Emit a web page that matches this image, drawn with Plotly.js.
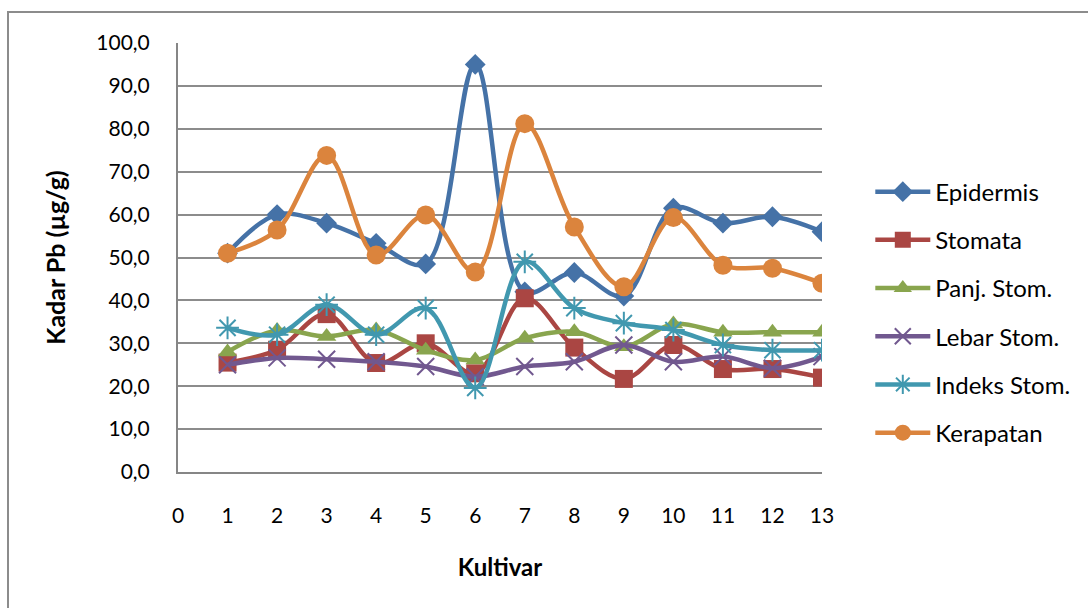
<!DOCTYPE html>
<html>
<head>
<meta charset="utf-8">
<script src="https://cdn.plot.ly/plotly-3.0.1.min.js"></script>
<style>
  html, body { margin: 0; padding: 0; background: #fff; overflow: hidden; width: 1088px; height: 608px; }
  #frame { position: absolute; left: 7px; top: 11px; width: 1200px; height: 700px; border: 2px solid #8c8c8c; box-sizing: border-box; }
  #chart { position: absolute; left: 0; top: 0; width: 1088px; height: 608px; }
</style>
</head>
<body>
<div id="frame"></div>
<div id="chart"></div>
<script>
const kultivar = [1,2,3,4,5,6,7,8,9,10,11,12,13];
const epidermis = [51.0, 60.0, 58.0, 53.3, 48.5, 95.0, 42.0, 46.5, 41.0, 61.5, 58.0, 59.5, 56.0];
const stomata   = [25.5, 28.5, 36.8, 25.4, 30.0, 23.0, 40.5, 29.0, 21.7, 29.6, 24.0, 24.0, 22.0];
const panjStom  = [28.0, 33.0, 31.6, 33.1, 28.4, 26.1, 31.2, 32.7, 29.2, 34.5, 32.6, 32.6, 32.6];
const lebarStom = [25.0, 26.6, 26.3, 25.7, 24.6, 22.2, 24.6, 25.7, 29.6, 25.7, 26.9, 24.2, 26.9];
const indeksStom= [33.6, 32.0, 39.0, 32.0, 38.2, 19.6, 49.0, 38.2, 34.7, 33.1, 29.6, 28.4, 28.4];
const kerapatan = [51.0, 56.4, 73.8, 50.6, 59.9, 46.6, 81.2, 57.1, 43.2, 59.3, 48.2, 47.5, 44.0];

const seriesNames = ['Epidermis','Stomata','Panj. Stom.','Lebar Stom.','Indeks Stom.','Kerapatan'];
const seriesData = [epidermis, stomata, panjStom, lebarStom, indeksStom, kerapatan];
const colors = ['#4572A7','#AA4643','#89A54E','#71588F','#4198AF','#DB843D'];
const symbols = ['diamond','square','triangle-up','x-thin-open','asterisk-open','circle'];
const sizes = [16, 18, 17, 17, 19, 19];

const traces = seriesNames.map((n, i) => ({
  x: kultivar, y: seriesData[i], name: n, type: 'scatter', mode: 'lines+markers',
  legendgroup: 'g' + i,
  line: { color: colors[i], width: 4.5, shape: 'spline', smoothing: 1 },
  marker: { symbol: symbols[i], size: sizes[i], color: colors[i],
            line: { color: colors[i], width: (i === 3 || i === 4) ? 2 : 0 } }
}));

const font = "Lato, 'Liberation Sans', sans-serif";
const layout = {
  width: 1088, height: 608,
  margin: { l: 178, r: 266, t: 43, b: 136 },
  paper_bgcolor: 'rgba(0,0,0,0)', plot_bgcolor: 'rgba(0,0,0,0)',
  separators: ',.',
  font: { family: font, size: 20, color: '#000' },
  showlegend: true,
  legend: { x: 1.075, xanchor: 'left', y: 0.705, yanchor: 'top', tracegroupgap: 14,
            itemwidth: 55, font: { family: font, size: 24, color: '#000' }, bgcolor: 'rgba(0,0,0,0)' },
  xaxis: {
    range: [0, 13], tickmode: 'linear', tick0: 0, dtick: 1, showgrid: false, zeroline: false,
    showline: true, linecolor: '#868686', linewidth: 2, ticks: '', ticklabelstandoff: 24,
    tickfont: { family: font, size: 21 },
    title: { text: '<b>Kultivar</b>', font: { family: font, size: 24 }, standoff: 33 }
  },
  yaxis: {
    range: [0, 100], tickmode: 'linear', tick0: 0, dtick: 10, tickformat: '.1f',
    showgrid: true, gridcolor: '#8c8c8c', gridwidth: 2, zeroline: false,
    showline: true, linecolor: '#868686', linewidth: 2, ticks: '', ticklabelstandoff: 22,
    tickfont: { family: font, size: 21 },
    title: { text: '<b>Kadar Pb (µg/g)</b>', font: { family: font, size: 25 }, standoff: 24 }
  }
};
Plotly.newPlot('chart', traces, layout, { displayModeBar: false, staticPlot: true });
</script>
</body>
</html>
